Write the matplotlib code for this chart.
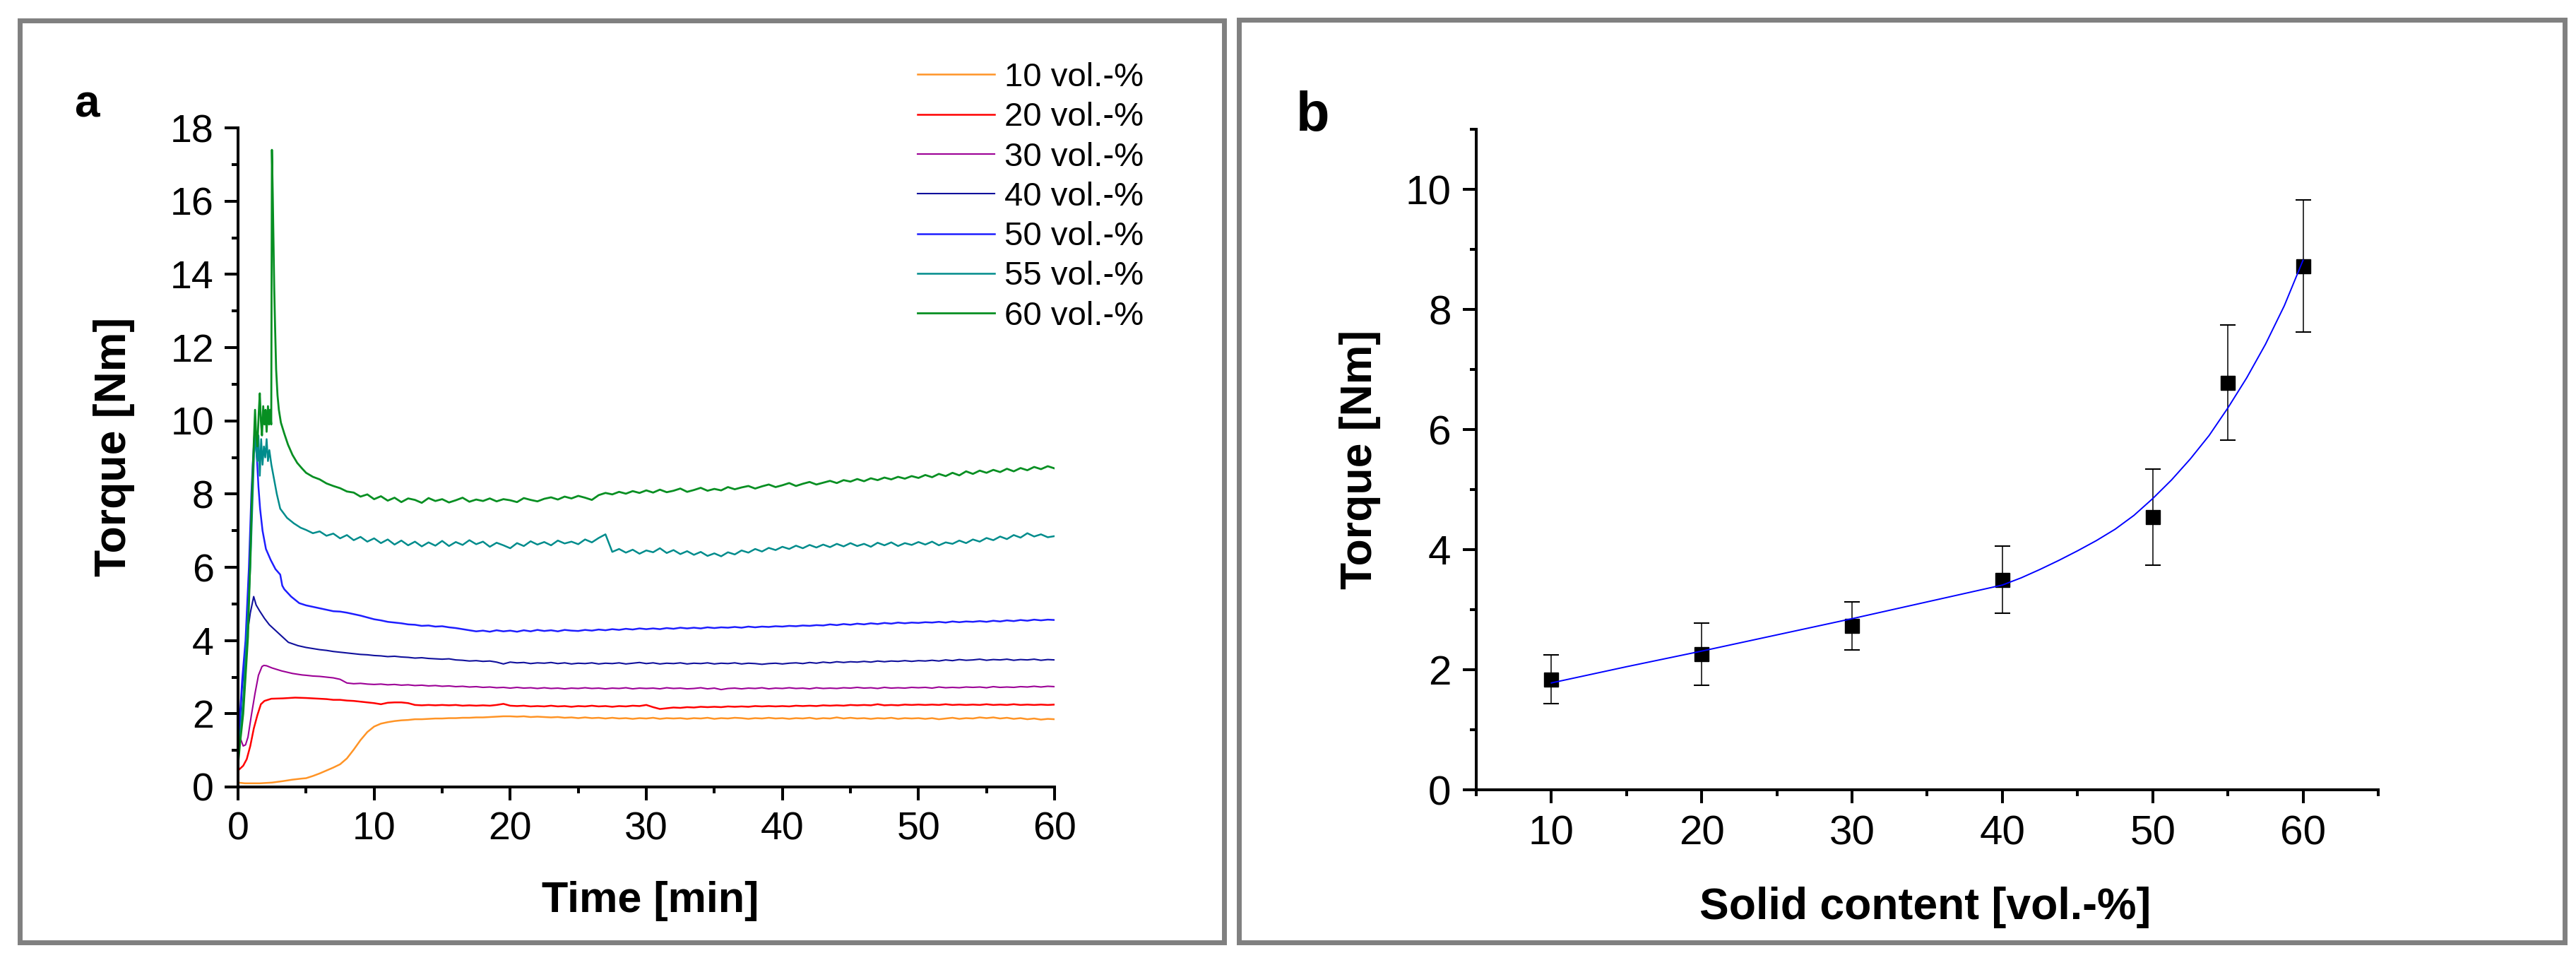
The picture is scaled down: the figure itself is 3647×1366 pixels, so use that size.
import numpy as np
import matplotlib
matplotlib.use("Agg")
import matplotlib.pyplot as plt
from matplotlib.patches import Rectangle
from matplotlib.ticker import MultipleLocator, FixedLocator

plt.rcParams['font.family'] = ['Liberation Sans', 'DejaVu Sans']

W, H = 3648, 1366

# ---- panel a: torque vs time (early part read point by point, tail every 0.5 min from 5 to 60 min)
labels = ['10 vol.-%', '20 vol.-%', '30 vol.-%', '40 vol.-%', '50 vol.-%', '55 vol.-%', '60 vol.-%']
colors = ['#FF9426', '#FF0000', '#9C0096', '#10109C', '#1E1EFF', '#008C8C', '#078F22']
widths = [1.8, 1.8, 1.5, 1.5, 1.8, 1.8, 2.0]

t10_early = [0, 0.5, 1.6, 2.5, 3.3, 4.0, 4.7]
v10_early = [0.12, 0.10, 0.10, 0.12, 0.16, 0.20, 0.23]
v10_tail = [0.24, 0.30, 0.37, 0.45, 0.53, 0.62, 0.78, 1.02, 1.28, 1.50, 1.65, 1.73, 1.77, 1.80, 1.82, 1.83,
            1.85, 1.85, 1.86, 1.87, 1.87, 1.88, 1.88, 1.89, 1.89, 1.90, 1.90, 1.91, 1.92, 1.93, 1.93, 1.92,
            1.93, 1.91, 1.92, 1.91, 1.90, 1.91, 1.89, 1.90, 1.88, 1.90, 1.88, 1.89, 1.87, 1.89, 1.87, 1.88,
            1.86, 1.88, 1.87, 1.89, 1.86, 1.88, 1.87, 1.88, 1.86, 1.88, 1.87, 1.89, 1.86, 1.88, 1.87, 1.89,
            1.88, 1.86, 1.88, 1.87, 1.89, 1.87, 1.88, 1.86, 1.88, 1.87, 1.89, 1.86, 1.88, 1.87, 1.90, 1.87,
            1.89, 1.87, 1.88, 1.86, 1.88, 1.87, 1.89, 1.86, 1.88, 1.87, 1.88, 1.86, 1.88, 1.85, 1.87, 1.89,
            1.86, 1.88, 1.87, 1.90, 1.88, 1.90, 1.87, 1.89, 1.86, 1.88, 1.85, 1.87, 1.84, 1.86, 1.85]

t20_early = [0, 0.38, 0.64, 0.9, 1.16, 1.42, 1.68, 1.94, 2.45, 3.3, 4.2]
v20_early = [0.45, 0.58, 0.76, 1.12, 1.60, 1.96, 2.26, 2.35, 2.41, 2.42, 2.44]
v20_tail = [2.43, 2.42, 2.41, 2.40, 2.38, 2.38, 2.36, 2.35, 2.33, 2.31, 2.29, 2.26, 2.30, 2.31, 2.31, 2.29,
            2.24, 2.23, 2.24, 2.23, 2.24, 2.23, 2.24, 2.22, 2.23, 2.22, 2.23, 2.22, 2.24, 2.27, 2.22, 2.21,
            2.22, 2.20, 2.21, 2.20, 2.22, 2.20, 2.21, 2.19, 2.21, 2.20, 2.22, 2.20, 2.21, 2.19, 2.21, 2.20,
            2.22, 2.21, 2.24, 2.18, 2.13, 2.15, 2.17, 2.16, 2.18, 2.17, 2.19, 2.18, 2.19, 2.18, 2.20, 2.19,
            2.20, 2.19, 2.21, 2.20, 2.21, 2.20, 2.21, 2.20, 2.22, 2.21, 2.22, 2.21, 2.23, 2.22, 2.23, 2.22,
            2.24, 2.23, 2.24, 2.23, 2.26, 2.23, 2.24, 2.23, 2.25, 2.24, 2.25, 2.24, 2.25, 2.24, 2.26, 2.24,
            2.25, 2.24, 2.25, 2.24, 2.26, 2.24, 2.25, 2.24, 2.26, 2.24, 2.25, 2.24, 2.25, 2.24, 2.25]

t30_early = [0, 0.08, 0.2, 0.38, 0.55, 0.73, 0.98, 1.25, 1.5, 1.76, 1.9, 2.1, 2.5, 3.2, 4.0, 4.7]
v30_early = [1.0, 1.6, 1.3, 1.12, 1.15, 1.36, 1.96, 2.56, 3.05, 3.29, 3.32, 3.31, 3.25, 3.17, 3.10, 3.06]
v30_tail = [3.05, 3.03, 3.02, 3.00, 2.98, 2.94, 2.84, 2.82, 2.83, 2.81, 2.80, 2.81, 2.79, 2.80, 2.78, 2.79,
            2.77, 2.78, 2.76, 2.77, 2.75, 2.76, 2.74, 2.75, 2.73, 2.74, 2.72, 2.73, 2.71, 2.72, 2.70, 2.72,
            2.70, 2.71, 2.69, 2.71, 2.69, 2.70, 2.68, 2.70, 2.69, 2.71, 2.69, 2.70, 2.68, 2.70, 2.69, 2.71,
            2.68, 2.70, 2.69, 2.70, 2.68, 2.71, 2.69, 2.70, 2.68, 2.69, 2.71, 2.68, 2.70, 2.66, 2.69, 2.70,
            2.68, 2.70, 2.69, 2.71, 2.68, 2.70, 2.69, 2.71, 2.69, 2.70, 2.68, 2.71, 2.69, 2.70, 2.69, 2.71,
            2.70, 2.72, 2.70, 2.71, 2.69, 2.72, 2.70, 2.71, 2.70, 2.72, 2.71, 2.72, 2.70, 2.73, 2.71, 2.72,
            2.71, 2.73, 2.72, 2.73, 2.71, 2.74, 2.72, 2.73, 2.72, 2.74, 2.73, 2.75, 2.73, 2.75, 2.74]

t40_early = [0, 0.15, 0.3, 0.55, 0.73, 0.9, 1.15, 1.33, 1.6, 1.95, 2.3, 2.65, 3.0, 3.35, 3.7, 4.4]
v40_early = [1.0, 1.8, 2.7, 3.6, 4.3, 4.75, 5.2, 4.97, 4.8, 4.6, 4.43, 4.31, 4.19, 4.07, 3.95, 3.86]
v40_tail = [3.81, 3.78, 3.75, 3.73, 3.70, 3.68, 3.66, 3.64, 3.62, 3.61, 3.59, 3.58, 3.56, 3.57, 3.55, 3.54,
            3.52, 3.53, 3.51, 3.50, 3.49, 3.50, 3.47, 3.46, 3.44, 3.45, 3.43, 3.44, 3.41, 3.36, 3.41, 3.39,
            3.40, 3.37, 3.39, 3.38, 3.40, 3.37, 3.39, 3.36, 3.38, 3.37, 3.39, 3.36, 3.38, 3.37, 3.39, 3.36,
            3.38, 3.40, 3.37, 3.39, 3.36, 3.38, 3.37, 3.39, 3.36, 3.38, 3.37, 3.39, 3.36, 3.38, 3.37, 3.39,
            3.36, 3.38, 3.37, 3.35, 3.37, 3.38, 3.36, 3.38, 3.39, 3.37, 3.40, 3.38, 3.41, 3.39, 3.42, 3.40,
            3.42, 3.41, 3.43, 3.41, 3.44, 3.42, 3.44, 3.43, 3.45, 3.43, 3.45, 3.44, 3.46, 3.44, 3.47, 3.45,
            3.48, 3.46, 3.47, 3.49, 3.46, 3.48, 3.47, 3.49, 3.46, 3.48, 3.47, 3.49, 3.46, 3.48, 3.47]

t50_early = [0, 0.15, 0.3, 0.55, 0.8, 0.98, 1.08, 1.22, 1.3, 1.4, 1.5, 1.62, 1.8, 2.05, 2.4, 2.75, 3.1,
             3.25, 3.4, 3.9, 4.5]
v50_early = [1.0, 2.0, 2.9, 4.0, 6.0, 8.0, 8.8, 9.7, 9.5, 8.9, 8.2, 7.6, 7.0, 6.5, 6.2, 5.95, 5.8,
             5.5, 5.4, 5.2, 5.02]
v50_tail = [4.96, 4.92, 4.88, 4.84, 4.80, 4.79, 4.76, 4.72, 4.68, 4.63, 4.58, 4.55, 4.51, 4.49, 4.47, 4.44,
            4.43, 4.40, 4.41, 4.38, 4.39, 4.36, 4.34, 4.31, 4.28, 4.25, 4.27, 4.24, 4.28, 4.25, 4.27, 4.24,
            4.28, 4.25, 4.29, 4.26, 4.28, 4.25, 4.29, 4.27, 4.26, 4.29, 4.27, 4.30, 4.28, 4.31, 4.29, 4.32,
            4.30, 4.33, 4.31, 4.33, 4.31, 4.34, 4.32, 4.35, 4.33, 4.35, 4.33, 4.36, 4.34, 4.36, 4.35, 4.37,
            4.35, 4.38, 4.36, 4.38, 4.37, 4.39, 4.38, 4.40, 4.39, 4.41, 4.40, 4.42, 4.41, 4.44, 4.42, 4.45,
            4.43, 4.46, 4.44, 4.47, 4.45, 4.48, 4.46, 4.49, 4.47, 4.49, 4.48, 4.50, 4.49, 4.51, 4.49, 4.52,
            4.50, 4.52, 4.51, 4.53, 4.51, 4.54, 4.52, 4.55, 4.53, 4.56, 4.54, 4.57, 4.55, 4.57, 4.56]

t55_early = [0, 0.2, 0.38, 0.55, 0.73, 0.9, 1.0, 1.1, 1.25, 1.33, 1.42, 1.5, 1.6, 1.7, 1.8, 1.9, 2.0,
             2.1, 2.2, 2.3, 2.45, 2.6, 2.85, 3.1, 3.6, 4.1, 4.6]
v55_early = [1.0, 1.6, 2.4, 3.5, 4.7, 6.0, 7.1, 8.2, 9.9, 9.2, 8.9, 9.6, 8.5, 9.5, 8.8, 9.3, 9.0,
             9.5, 8.9, 9.2, 8.8, 8.5, 8.0, 7.6, 7.35, 7.2, 7.08]
v55_tail = [7.02, 6.93, 6.98, 6.86, 6.92, 6.79, 6.88, 6.74, 6.83, 6.70, 6.79, 6.66, 6.76, 6.62, 6.73, 6.60,
            6.70, 6.57, 6.68, 6.59, 6.72, 6.58, 6.69, 6.61, 6.74, 6.63, 6.70, 6.56, 6.67, 6.60, 6.52, 6.66,
            6.58, 6.71, 6.62, 6.69, 6.60, 6.73, 6.65, 6.70, 6.63, 6.76, 6.68, 6.80, 6.90, 6.42, 6.50, 6.40,
            6.48, 6.37, 6.46, 6.41, 6.52, 6.39, 6.47, 6.36, 6.44, 6.34, 6.42, 6.31, 6.38, 6.30, 6.41, 6.35,
            6.46, 6.40, 6.50, 6.43, 6.53, 6.47, 6.56, 6.50, 6.59, 6.52, 6.61, 6.54, 6.62, 6.55, 6.64, 6.57,
            6.66, 6.58, 6.64, 6.56, 6.67, 6.60, 6.68, 6.58, 6.66, 6.61, 6.69, 6.62, 6.70, 6.60, 6.68, 6.64,
            6.73, 6.66, 6.76, 6.70, 6.80, 6.74, 6.84, 6.77, 6.88, 6.81, 6.93, 6.84, 6.90, 6.82, 6.85]

t60_early = [0, 0.15, 0.38, 0.55, 0.73, 0.9, 1.0, 1.12, 1.25, 1.33, 1.42, 1.52, 1.6, 1.68, 1.76, 1.85,
             1.94, 2.02, 2.1, 2.2, 2.28, 2.35, 2.44, 2.49, 2.55, 2.6, 2.66, 2.72, 2.8, 2.9, 3.0, 3.15,
             3.4, 3.67, 4.0, 4.35, 4.7]
v60_early = [0.6, 1.2, 2.0, 3.0, 4.1, 6.2, 7.7, 9.0, 10.3, 9.6, 9.3, 10.2, 10.75, 10.0, 9.6, 10.4,
             9.9, 10.3, 9.7, 10.4, 9.9, 10.3, 9.9, 17.4, 16.2, 15.0, 13.6, 12.6, 11.4, 10.7, 10.3, 9.95,
             9.65, 9.35, 9.07, 8.85, 8.70]
v60_tail = [8.58, 8.47, 8.40, 8.29, 8.22, 8.16, 8.07, 8.04, 7.93, 7.99, 7.86, 7.94, 7.82, 7.90, 7.78, 7.88,
            7.84, 7.76, 7.89, 7.81, 7.86, 7.77, 7.83, 7.90, 7.79, 7.85, 7.81, 7.88, 7.80, 7.86, 7.83, 7.78,
            7.89, 7.84, 7.80, 7.87, 7.91, 7.85, 7.93, 7.88, 7.95, 7.90, 7.84, 7.97, 8.03, 7.99, 8.06, 8.01,
            8.08, 8.03, 8.10, 8.04, 8.12, 8.05, 8.09, 8.15, 8.06, 8.11, 8.17, 8.09, 8.14, 8.10, 8.19, 8.13,
            8.18, 8.22, 8.15, 8.21, 8.26, 8.19, 8.24, 8.30, 8.22, 8.28, 8.33, 8.26, 8.31, 8.36, 8.30, 8.38,
            8.34, 8.41, 8.35, 8.43, 8.38, 8.45, 8.40, 8.47, 8.42, 8.49, 8.44, 8.52, 8.46, 8.55, 8.49, 8.58,
            8.51, 8.62, 8.55, 8.64, 8.58, 8.66, 8.60, 8.69, 8.62, 8.71, 8.65, 8.74, 8.68, 8.76, 8.70]

early_t = [t10_early, t20_early, t30_early, t40_early, t50_early, t55_early, t60_early]
early_v = [v10_early, v20_early, v30_early, v40_early, v50_early, v55_early, v60_early]
tails = [v10_tail, v20_tail, v30_tail, v40_tail, v50_tail, v55_tail, v60_tail]

# ---- panel b: mean torque vs solid content, with error bars and fitted curve
solid = [10, 20, 30, 40, 50, 55, 60]
torque_mean = [1.84, 2.26, 2.73, 3.50, 4.54, 6.78, 8.72]
torque_err = [0.41, 0.52, 0.40, 0.56, 0.80, 0.96, 1.10]
fit_x = [10, 15, 20, 25, 30, 35, 40, 41.25, 42.5, 43.75, 45, 46.25, 47.5, 48.75, 50, 51.25, 52.5,
         53.75, 55, 56.25, 57.5, 58.75, 60]
fit_y = [1.78, 2.05, 2.31, 2.58, 2.85, 3.13, 3.41, 3.53, 3.67, 3.82, 3.98, 4.15, 4.34, 4.57, 4.85,
         5.16, 5.51, 5.90, 6.36, 6.86, 7.42, 8.06, 8.82]

fig = plt.figure(figsize=(W / 100, H / 100), dpi=100)


def fx(px):
    return px / W


def fy(py):
    return 1 - py / H


# grey frames around each panel
fig.patches.append(Rectangle((fx(28.5), fy(1333.5)), fx(1733) - fx(28.5), fy(28.5) - fy(1333.5),
                             transform=fig.transFigure, fill=False, edgecolor='#808080', linewidth=5.0))
fig.patches.append(Rectangle((fx(1754), fy(1334)), fx(3631) - fx(1754), fy(28) - fy(1334),
                             transform=fig.transFigure, fill=False, edgecolor='#808080', linewidth=5.0))

axa = fig.add_axes([fx(337), fy(1114), fx(1493) - fx(337), fy(181) - fy(1114)])
axb = fig.add_axes([fx(2090), fy(1118), fx(3367) - fx(2090), fy(183) - fy(1118)])


def style_axis(ax, size, pad):
    for s in ['top', 'right']:
        ax.spines[s].set_visible(False)
    for s in ['left', 'bottom']:
        ax.spines[s].set_linewidth(2.9)
    ax.tick_params(which='major', direction='out', length=13.5, width=2.9, labelsize=size, pad=pad)
    ax.tick_params(which='minor', direction='out', length=6.5, width=2.9)


for i in range(len(labels)):
    t = np.concatenate([early_t[i], np.linspace(5, 60, len(tails[i]))])
    v = np.concatenate([early_v[i], tails[i]])
    axa.plot(t, v, color=colors[i], linewidth=widths[i], label=labels[i])

axa.set_xlim(0, 60)
axa.set_ylim(0, 18)
axa.xaxis.set_major_locator(MultipleLocator(10))
axa.xaxis.set_minor_locator(MultipleLocator(5))
axa.yaxis.set_major_locator(MultipleLocator(2))
axa.yaxis.set_minor_locator(MultipleLocator(1))
style_axis(axa, 40, 11)

leg = axa.legend(loc='upper left', bbox_to_anchor=(fx(1299), fy(88)), bbox_transform=fig.transFigure,
                 frameon=False, fontsize=34, handlelength=2.3, handletextpad=0.3,
                 labelspacing=0.26, borderpad=0, borderaxespad=0)

axb.errorbar(solid, torque_mean, yerr=torque_err, fmt='s', color='black', markersize=13.7,
             ecolor='black', elinewidth=1.1, capsize=8.2, capthick=1.5, zorder=2)
axb.plot(fit_x, fit_y, color='#0000FF', linewidth=1.4, zorder=3)
axb.set_xlim(5, 65)
axb.set_ylim(0, 11)
axb.xaxis.set_major_locator(FixedLocator([10, 20, 30, 40, 50, 60]))
axb.xaxis.set_minor_locator(MultipleLocator(5))
axb.yaxis.set_major_locator(FixedLocator([0, 2, 4, 6, 8, 10]))
axb.yaxis.set_minor_locator(MultipleLocator(1))
style_axis(axb, 42, 12)

# axis titles and panel letters
fig.text(fx(921), fy(1275), 'Time [min]', fontsize=44, fontweight='bold', ha='center', va='center')
fig.text(fx(162), fy(632), 'Torque [Nm]', fontsize=45, fontweight='bold', rotation=90,
         ha='center', va='center')
fig.text(fx(2726), fy(1285), 'Solid content [vol.-%]', fontsize=45, fontweight='bold',
         ha='center', va='center')
fig.text(fx(1926), fy(650), 'Torque [Nm]', fontsize=45, fontweight='bold', rotation=90,
         ha='center', va='center')
fig.text(fx(123), fy(165), 'a', fontsize=46, fontweight='bold', ha='center', va='baseline')
fig.text(fx(1859), fy(185), 'b', fontsize=56, fontweight='bold', ha='center', va='baseline')

fig.savefig('out.png', dpi=100)
